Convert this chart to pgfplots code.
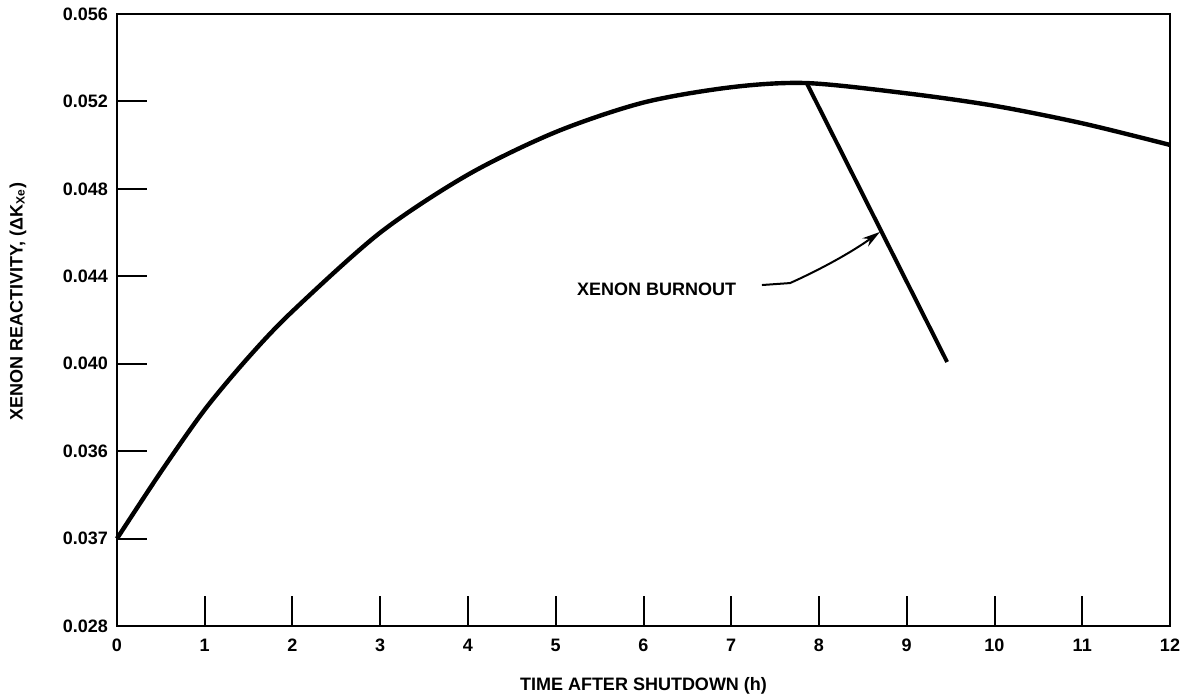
\documentclass[border=0pt]{standalone}
\usepackage{fontspec}
\setmainfont{Liberation Sans}
\usepackage{pgfplots}
\pgfplotsset{compat=1.18}
\usetikzlibrary{arrows.meta}
\begin{document}
\begin{tikzpicture}
\useasboundingbox (-58.5pt,-36pt) rectangle (531.5pt,313pt);
\begin{axis}[
  scale only axis,
  width=526.5pt, height=306pt,
  xmin=0, xmax=12, ymin=0.028, ymax=0.056,
  axis line style={line width=1.3pt},
  tick align=inside,
  xtick pos=bottom, ytick pos=left,
  major tick length=15pt,
  tick style={line width=1pt, black},
  xtick={0,1,2,3,4,5,6,7,8,9,10,11,12},
  xticklabels={0,1,2,3,4,5,6,7,8,9,10,11,12},
  ytick={0.028,0.032,0.036,0.040,0.044,0.048,0.052,0.056},
  yticklabels={0.028,0.037,0.036,0.040,0.044,0.048,0.052,0.056},
  scaled y ticks=false,
  every tick label/.append style={font=\bfseries\fontsize{9}{10}\selectfont},
  xticklabel style={yshift=-3pt},
  yticklabel style={xshift=-1pt},
  xlabel={TIME AFTER SHUTDOWN (h)},
  xlabel style={at={(axis description cs:0.5,0)}, anchor=center, yshift=-30pt, font=\bfseries\fontsize{9}{10}\selectfont},
  ylabel={XENON REACTIVITY, (ΔK\textsubscript{Xe})},
  ylabel style={at={(axis description cs:-0.094,0.53)}, anchor=center, font=\bfseries\fontsize{9}{10}\selectfont},
  clip=false,
]
\addplot[black, line width=2.2pt, smooth] coordinates {
  (0,0.03200) (0.5,0.03505) (1,0.03790) (1.5,0.04030) (2,0.04240)
  (3,0.04600) (4,0.04865) (5,0.05060) (6,0.05195) (7,0.05265) (7.86,0.05284)
  (9,0.05237) (10,0.05180) (11,0.05100) (12,0.05001)
};
\addplot[black, line width=2pt] coordinates {(7.86,0.05284) (9.46,0.04008)};
\node[font=\bfseries\fontsize{9}{10}\selectfont] at (axis cs:6.15,0.0434) {XENON BURNOUT};
\draw[line width=1pt, -{Stealth[length=9pt,width=5pt]}] (axis cs:7.35,0.0436) -- (axis cs:7.67,0.04369) .. controls (axis cs:7.9,0.0441) and (axis cs:8.3,0.0449) .. (axis cs:8.695,0.04603);
\end{axis}
\end{tikzpicture}
\end{document}
